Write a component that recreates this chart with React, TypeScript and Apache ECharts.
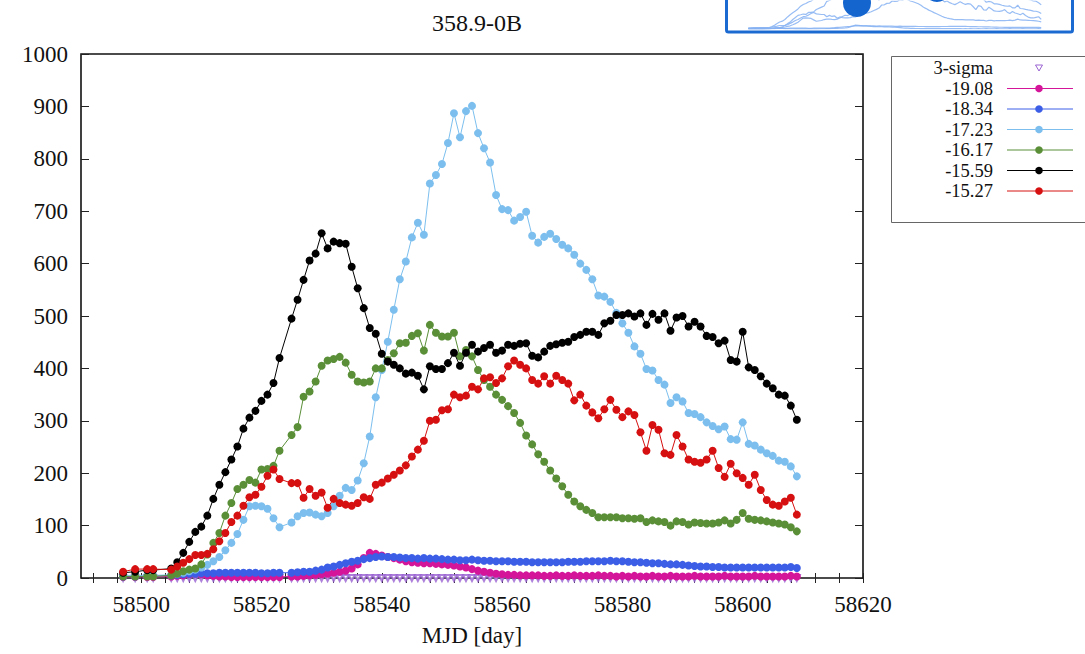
import React, { useEffect, useRef } from "react";
import * as echarts from "echarts";

// ---------- DATA ----------
const mjd = [
  58497, 58499, 58501, 58502, 58505, 58506, 58507, 58508, 58509, 58510,
  58511, 58512, 58513, 58514, 58515, 58516, 58517, 58518, 58519, 58520,
  58521, 58522, 58523, 58525, 58526, 58527, 58528, 58529, 58530, 58531,
  58532, 58533, 58534, 58535, 58536, 58537, 58538, 58539, 58540, 58541,
  58542, 58543, 58544, 58545, 58546, 58547, 58548, 58549, 58550, 58551,
  58552, 58553, 58554, 58555, 58556, 58557, 58558, 58559, 58560, 58561,
  58562, 58563, 58564, 58565, 58566, 58567, 58568, 58569, 58570, 58571,
  58572, 58573, 58574, 58575, 58576, 58577, 58578, 58579, 58580, 58581,
  58582, 58583, 58584, 58585, 58586, 58587, 58588, 58589, 58590, 58591,
  58592, 58593, 58594, 58595, 58596, 58597, 58598, 58599, 58600, 58601,
  58602, 58603, 58604, 58605, 58606, 58607, 58608, 58609,
];

const sigma3 = [
  0, 0, 0, 0, 0, 0, 0, 0, 0, 0, 0, 0, 0, 0, 0, 0, 0, 0, 0, 0, 0, 0, 0,
  0, 0, 0, 0, 0, 0, 0, 0, 0, 0, 0, 0, 0, 0, 0, 0, 0, 0, 0, 0, 0, 0, 0,
  0, 0, 0, 0, 0, 0, 0, 0, 0, 0, 0, 0, 0, 0, 0, 0, 0, 0, 0, 0, 0, 0, 0,
  0, 0, 0, 0, 0, 0, 0, 0, 0, 0, 0, 0, 0, 0, 0, 0, 0, 0, 0, 0, 0, 0, 0,
  0, 0, 0, 0, 0, 0, 0, 0, 0, 0, 0, 0, 0, 0, 0, 0, 0, 0,
];

const v1908 = [
  2, 2, 2, 2, 3, 4, 5, 7, 8, 7, 5, 4, 3, 3, 2, 2, 2, 2, 2, 2, 2, 2, 2,
  3, 3, 4, 5, 6, 7, 8, 10, 12, 14,
  18, 26, 38, 48, 46, 43, 40, 38, 35, 32,
  30, 29, 28, 28, 27, 26, 25, 24, 22, 20,
  17, 14, 12, 10, 8, 7, 6, 6, 5, 5,
  5, 5, 4, 4, 5, 4, 4, 5, 4, 4,
  4, 5, 4, 4, 3, 4, 3, 4, 3, 3,
  4, 3, 3, 4, 3, 3, 3, 4, 3, 3,
  3, 3, 4, 3, 3, 3, 3, 4, 3, 3,
  3, 3, 3, 4, 3,
];

const v1834 = [
  3, 3, 4, 4, 5, 6, 7, 8, 8, 9, 9, 9, 10, 10, 10, 10, 10, 10, 10, 9, 9, 10, 10,
  10, 11, 12, 12, 14, 16, 20, 22, 25, 28,
  31, 33, 36, 38, 40, 41, 40, 40, 39, 38,
  38, 37, 38, 37, 37, 36, 35, 35, 34, 34,
  35, 34, 33, 33, 32, 32, 32, 31, 31, 31,
  30, 30, 30, 30, 30, 30, 31, 31, 31, 32,
  32, 32, 32, 33, 32, 32, 31, 30, 30, 29,
  28, 28, 27, 26, 26, 25, 24, 23, 22, 22,
  21, 21, 20, 20, 20, 20, 20, 20, 20, 20,
  20, 20, 20, 21, 19,
];

const v1723 = [
  5, 5, 5, 5, 6, 8, 10, 13, 16, 20, 25, 32, 40, 53, 67, 84, 111, 137, 138, 137, 132, 114, 97,
  106, 118, 124, 125, 121, 118, 124, 137, 157, 172,
  168, 186, 219, 270, 345, 397, 451, 512, 570, 604,
  650, 678, 655, 753, 769, 790, 830, 887, 841, 891,
  901, 849, 820, 793, 731, 704, 702, 682, 689, 699,
  653, 640, 651, 657, 647, 636, 629, 617, 600, 588,
  570, 539, 537, 527, 506, 486, 468, 442, 428, 399,
  396, 378, 369, 334, 345, 337, 315, 313, 307, 297,
  290, 284, 289, 265, 264, 297, 256, 253, 245, 238,
  233, 224, 222, 213, 194,
];

const v1617 = [
  3, 3, 3, 3, 5, 8, 13, 16, 18, 26, 45, 67, 86, 119, 143, 170, 178, 187, 182, 207, 208, 214, 243,
  273, 288, 346, 356, 375, 405, 415, 418, 422, 411,
  388, 375, 373, 375, 400, 400, 416, 429, 448, 449,
  462, 467, 434, 483, 468, 461, 461, 468, 423, 435,
  423, 397, 378, 365, 350, 340, 328, 315, 296, 272,
  255, 236, 222, 205, 190, 175, 159, 146, 137, 130,
  124, 116, 116, 116, 116, 114, 114, 113, 114, 107,
  110, 108, 107, 100, 108, 107, 102, 106, 105, 104,
  104, 106, 110, 104, 111, 124, 113, 111, 110, 108,
  106, 104, 102, 97, 89,
];

const v1559 = [
  10, 12, 15, 15, 18, 30, 48, 69, 88, 98, 119, 151, 178, 202, 226, 251, 285, 306, 319, 338, 350, 372, 420,
  495, 531, 569, 606, 619, 658, 629, 642, 639, 638,
  594, 553, 515, 477, 466, 428, 413, 407, 400, 390,
  392, 386, 360, 404, 399, 399, 410, 430, 405, 430,
  445, 432, 439, 445, 430, 434, 445, 443, 447, 448,
  424, 421, 432, 443, 446, 449, 451, 460, 464, 470,
  470, 464, 486, 491, 502, 502, 505, 499, 505, 483,
  504, 493, 505, 472, 497, 500, 480, 489, 480, 462,
  460, 448, 453, 416, 413, 470, 402, 397, 385, 371,
  362, 350, 348, 329, 302,
];

const v1527 = [
  12, 17, 17, 17, 16, 22, 29, 36, 44, 44, 46, 55, 70, 86, 107, 119, 138, 154, 159, 174, 195, 207, 189,
  181, 181, 153, 170, 157, 163, 134, 151, 143, 140,
  138, 143, 154, 151, 178, 182, 190, 197, 205, 215,
  232, 245, 262, 300, 302, 320, 322, 350, 345, 348,
  365, 360, 381, 383, 372, 381, 404, 415, 407, 400,
  378, 371, 385, 371, 386, 378, 371, 339, 350, 329,
  316, 305, 322, 340, 321, 307, 318, 311, 278, 243,
  292, 283, 238, 235, 273, 251, 226, 222, 220, 226,
  243, 210, 193, 218, 200, 191, 178, 197, 168, 149,
  140, 138, 146, 153, 121,
];

const seriesNames = ["-19.08", "-18.34", "-17.23", "-16.17", "-15.59", "-15.27"];
const seriesValues = [v1908, v1834, v1723, v1617, v1559, v1527];
const seriesColors = ["#d4159a", "#3c5ee6", "#7cbfee", "#5a8f38", "#000000", "#d61010"];
const sigmaName = "3-sigma";
const sigmaColor = "#9a62d2";

const xTickValues = [
  58492, 58496, 58500, 58504, 58508, 58512, 58516, 58520, 58524, 58528,
  58532, 58536, 58540, 58544, 58548, 58552, 58556, 58560, 58564, 58568,
  58572, 58576, 58580, 58584, 58588, 58592, 58596, 58600, 58604, 58608,
  58612, 58616, 58620,
];
const xLabelValues = [58500, 58520, 58540, 58560, 58580, 58600, 58620];

const titleText = "358.9-0B";
const xAxisName = "MJD [day]";

// ---------- LAYOUT ----------
const FONT = '"Liberation Serif", "Times New Roman", serif';
const PL = 81;
const PT = 54;
const PW = 782;
const PH = 524;

function buildOption() {
  const pairs = (vals: number[]) => mjd.map((x, i) => [x, vals[i]]);

  const mainSeries: any[] = [
    {
      name: sigmaName,
      type: "scatter",
      xAxisIndex: 0,
      yAxisIndex: 0,
      data: pairs(sigma3),
      symbol: "emptyTriangle",
      symbolRotate: 180,
      symbolSize: 6,
      itemStyle: { color: sigmaColor, borderColor: sigmaColor, borderWidth: 1 },
      z: 2,
    },
  ];
  seriesNames.forEach((n, i) => {
    mainSeries.push({
      name: n,
      type: "line",
      xAxisIndex: 0,
      yAxisIndex: 0,
      data: pairs(seriesValues[i]),
      symbol: "circle",
      symbolSize: 8,
      showSymbol: true,
      lineStyle: { color: seriesColors[i], width: 1 },
      itemStyle: { color: seriesColors[i] },
      z: 3 + i,
    });
  });
  // thumbnail inset lines
  seriesNames.forEach((n, i) => {
    mainSeries.push({
      name: "thumb" + n,
      type: "line",
      xAxisIndex: 2,
      yAxisIndex: 2,
      data: pairs(seriesValues[i]),
      showSymbol: false,
      symbol: "none",
      silent: true,
      clip: true,
      lineStyle: { color: "#86b2f2", width: 1.2, opacity: 0.85 },
      z: 1,
    });
  });

  // legend graphic
  const rowsY = [68, 88.5, 109, 129.5, 150, 170.5, 191];
  const legendFont = 18.5;
  const legendEls: any[] = [
    {
      type: "rect",
      shape: { x: 891.5, y: 56.5, width: 200, height: 166 },
      style: { fill: "#fff", stroke: "#666", lineWidth: 1 },
      z: 10,
    },
    {
      type: "text",
      z: 11,
      style: {
        text: sigmaName,
        x: 993,
        y: rowsY[0],
        textAlign: "right",
        textVerticalAlign: "middle",
        fontSize: legendFont,
        fontFamily: FONT,
        fill: "#111",
      },
    },
    {
      type: "polygon",
      z: 11,
      shape: { points: [[1035.5, rowsY[0] - 3], [1042.5, rowsY[0] - 3], [1039, rowsY[0] + 3]] },
      style: { fill: "none", stroke: sigmaColor, lineWidth: 1 },
    },
  ];
  seriesNames.forEach((n, i) => {
    const y = rowsY[i + 1];
    legendEls.push(
      {
        type: "text",
        z: 11,
        style: {
          text: n,
          x: 993,
          y,
          textAlign: "right",
          textVerticalAlign: "middle",
          fontSize: legendFont,
          fontFamily: FONT,
          fill: "#111",
        },
      },
      {
        type: "line",
        z: 11,
        shape: { x1: 1007, y1: y, x2: 1073, y2: y },
        style: { stroke: seriesColors[i], lineWidth: 1 },
      },
      {
        type: "circle",
        z: 12,
        shape: { cx: 1039, cy: y, r: 3.8 },
        style: { fill: seriesColors[i] },
      }
    );
  });

  const insetEls: any[] = [
    {
      type: "rect",
      z: 20,
      shape: { x: 726.5, y: -10, width: 346, height: 42, r: 2 },
      style: { fill: "none", stroke: "#1b6ad2", lineWidth: 3 },
    },
    {
      type: "circle",
      z: 21,
      shape: { cx: 857, cy: 3, r: 14 },
      style: { fill: "#1565cf" },
    },
    {
      type: "circle",
      z: 21,
      shape: { cx: 937, cy: -11, r: 13 },
      style: { fill: "#1565cf" },
    },
  ];

  const tickStyle = { color: "#222", width: 1 };
  const plain = (v: number) => String(v);

  return {
    animation: false,
    backgroundColor: "#ffffff",
    title: {
      text: titleText,
      left: PL + PW / 2,
      top: 6,
      textAlign: "center",
      textStyle: { fontFamily: FONT, fontSize: 24, fontWeight: "normal", color: "#111" },
    },
    grid: [
      {
        left: PL,
        top: PT,
        width: PW,
        height: PH,
        show: true,
        borderColor: "#111",
        borderWidth: 1.6,
        backgroundColor: "transparent",
      },
      { left: 730, top: 1, width: 340, height: 28, show: false },
    ],
    xAxis: [
      {
        type: "value",
        gridIndex: 0,
        position: "bottom",
        min: 58490,
        max: 58620,
        axisLine: { show: false },
        splitLine: { show: false },
        axisTick: { show: true, inside: true, length: 5, customValues: xTickValues, lineStyle: tickStyle },
        axisLabel: {
          customValues: xLabelValues,
          formatter: plain,
          margin: 15,
          fontSize: 23,
          fontFamily: FONT,
          color: "#111",
        },
        name: xAxisName,
        nameLocation: "middle",
        nameGap: 46,
        nameTextStyle: { fontSize: 23, fontFamily: FONT, color: "#111" },
      },
      {
        type: "value",
        gridIndex: 0,
        position: "top",
        min: 58490,
        max: 58620,
        axisLine: { show: false },
        splitLine: { show: false },
        axisTick: { show: true, inside: true, length: 5, customValues: xTickValues, lineStyle: tickStyle },
        axisLabel: { show: false },
      },
      {
        type: "value",
        gridIndex: 1,
        min: 58490,
        max: 58620,
        show: false,
      },
    ],
    yAxis: [
      {
        type: "value",
        gridIndex: 0,
        position: "left",
        min: 0,
        max: 1000,
        interval: 100,
        axisLine: { show: false },
        splitLine: { show: false },
        axisTick: { show: true, inside: true, length: 8, lineStyle: tickStyle },
        axisLabel: { formatter: plain, margin: 13, fontSize: 23, fontFamily: FONT, color: "#111" },
      },
      {
        type: "value",
        gridIndex: 0,
        position: "right",
        min: 0,
        max: 1000,
        interval: 100,
        axisLine: { show: false },
        splitLine: { show: false },
        axisTick: { show: true, inside: true, length: 8, lineStyle: tickStyle },
        axisLabel: { show: false },
      },
      {
        type: "value",
        gridIndex: 1,
        min: 0,
        max: 350,
        show: false,
      },
    ],
    series: mainSeries,
    graphic: [...legendEls, ...insetEls],
  };
}

export default function App() {
  const ref = useRef<HTMLDivElement>(null);
  useEffect(() => {
    if (!ref.current) return;
    const chart = echarts.init(ref.current, null, { renderer: "svg" });
    chart.setOption(buildOption() as any);
    return () => chart.dispose();
  }, []);
  return (
    <div
      ref={ref}
      style={{ position: "fixed", left: 0, top: 0, width: 1085, height: 654, background: "#fff" }}
    />
  );
}
